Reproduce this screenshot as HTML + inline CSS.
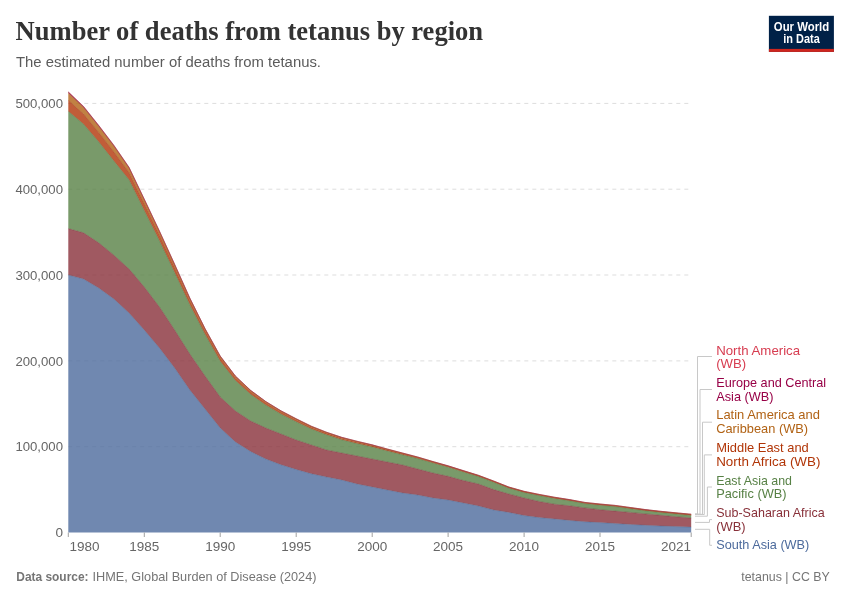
<!DOCTYPE html>
<html><head><meta charset="utf-8"><style>
html,body{margin:0;padding:0;background:#fff;}
svg{display:block;will-change:transform;}
text{font-family:"Liberation Sans",sans-serif;}
.ax{font-size:13.5px;fill:#666666;}
.lg{font-size:13.5px;}
</style></head><body>
<svg width="850" height="600" viewBox="0 0 850 600">
<rect width="850" height="600" fill="#ffffff"/>
<text x="15.6" y="40.1" style="font-family:'Liberation Serif',serif;font-weight:bold;font-size:28px" fill="#333333" textLength="467.5" lengthAdjust="spacingAndGlyphs">Number of deaths from tetanus by region</text>
<text x="16" y="66.8" style="font-size:15.5px" fill="#5b5b5b" textLength="305" lengthAdjust="spacingAndGlyphs">The estimated number of deaths from tetanus.</text>
<g>
<rect x="768.9" y="15.8" width="65" height="36" fill="#002147"/>
<rect x="768.9" y="48.9" width="65" height="3" fill="#ce261e"/>
<text x="801.5" y="30.7" text-anchor="middle" style="font-size:12px;font-weight:bold" fill="#ffffff" textLength="55.3" lengthAdjust="spacingAndGlyphs">Our World</text>
<text x="801.5" y="42.75" text-anchor="middle" style="font-size:12px;font-weight:bold" fill="#ffffff" textLength="36.5" lengthAdjust="spacingAndGlyphs">in Data</text>
</g>
<line x1="68.3" x2="691.2" y1="446.7" y2="446.7" stroke="#dddddd" stroke-dasharray="4,4"/>
<line x1="68.3" x2="691.2" y1="360.9" y2="360.9" stroke="#dddddd" stroke-dasharray="4,4"/>
<line x1="68.3" x2="691.2" y1="275.0" y2="275.0" stroke="#dddddd" stroke-dasharray="4,4"/>
<line x1="68.3" x2="691.2" y1="189.2" y2="189.2" stroke="#dddddd" stroke-dasharray="4,4"/>
<line x1="68.3" x2="691.2" y1="103.4" y2="103.4" stroke="#dddddd" stroke-dasharray="4,4"/>

<path d="M68.30,275.00 L83.49,279.00 L98.69,288.00 L113.88,299.00 L129.07,313.00 L144.26,330.00 L159.46,348.00 L174.65,368.00 L189.84,390.00 L205.03,409.00 L220.23,428.00 L235.42,442.00 L250.61,451.50 L265.80,459.00 L281.00,464.80 L296.19,469.50 L311.38,473.80 L326.58,477.00 L341.77,480.00 L356.96,484.00 L372.15,487.00 L387.35,490.00 L402.54,493.00 L417.73,495.00 L432.92,498.00 L448.12,500.00 L463.31,503.00 L478.50,506.00 L493.70,510.00 L508.89,512.40 L524.08,515.60 L539.27,517.60 L554.47,519.00 L569.66,520.40 L584.85,521.80 L600.04,522.60 L615.24,523.60 L630.43,524.40 L645.62,525.30 L660.81,526.00 L676.01,526.60 L691.20,527.10 L691.20,532.50 L676.01,532.50 L660.81,532.50 L645.62,532.50 L630.43,532.50 L615.24,532.50 L600.04,532.50 L584.85,532.50 L569.66,532.50 L554.47,532.50 L539.27,532.50 L524.08,532.50 L508.89,532.50 L493.70,532.50 L478.50,532.50 L463.31,532.50 L448.12,532.50 L432.92,532.50 L417.73,532.50 L402.54,532.50 L387.35,532.50 L372.15,532.50 L356.96,532.50 L341.77,532.50 L326.58,532.50 L311.38,532.50 L296.19,532.50 L281.00,532.50 L265.80,532.50 L250.61,532.50 L235.42,532.50 L220.23,532.50 L205.03,532.50 L189.84,532.50 L174.65,532.50 L159.46,532.50 L144.26,532.50 L129.07,532.50 L113.88,532.50 L98.69,532.50 L83.49,532.50 L68.30,532.50Z" fill="#4C6A9C" fill-opacity="0.8"/>
<path d="M68.30,228.60 L83.49,232.80 L98.69,242.80 L113.88,255.20 L129.07,269.00 L144.26,287.00 L159.46,307.00 L174.65,330.00 L189.84,354.00 L205.03,376.00 L220.23,397.00 L235.42,411.00 L250.61,421.00 L265.80,428.00 L281.00,434.00 L296.19,440.00 L311.38,445.00 L326.58,450.00 L341.77,453.00 L356.96,456.00 L372.15,459.00 L387.35,462.00 L402.54,465.00 L417.73,469.00 L432.92,473.00 L448.12,476.30 L463.31,480.50 L478.50,484.00 L493.70,489.60 L508.89,494.00 L524.08,498.00 L539.27,501.50 L554.47,504.20 L569.66,505.80 L584.85,507.90 L600.04,509.70 L615.24,511.10 L630.43,512.40 L645.62,513.90 L660.81,515.30 L676.01,516.70 L691.20,518.00 L691.20,527.10 L676.01,526.60 L660.81,526.00 L645.62,525.30 L630.43,524.40 L615.24,523.60 L600.04,522.60 L584.85,521.80 L569.66,520.40 L554.47,519.00 L539.27,517.60 L524.08,515.60 L508.89,512.40 L493.70,510.00 L478.50,506.00 L463.31,503.00 L448.12,500.00 L432.92,498.00 L417.73,495.00 L402.54,493.00 L387.35,490.00 L372.15,487.00 L356.96,484.00 L341.77,480.00 L326.58,477.00 L311.38,473.80 L296.19,469.50 L281.00,464.80 L265.80,459.00 L250.61,451.50 L235.42,442.00 L220.23,428.00 L205.03,409.00 L189.84,390.00 L174.65,368.00 L159.46,348.00 L144.26,330.00 L129.07,313.00 L113.88,299.00 L98.69,288.00 L83.49,279.00 L68.30,275.00Z" fill="#883039" fill-opacity="0.8"/>
<path d="M68.30,111.30 L83.49,124.10 L98.69,141.80 L113.88,160.90 L129.07,179.80 L144.26,210.50 L159.46,240.80 L174.65,272.40 L189.84,304.80 L205.03,334.30 L220.23,361.20 L235.42,380.50 L250.61,394.30 L265.80,405.10 L281.00,414.10 L296.19,421.70 L311.38,429.00 L326.58,434.80 L341.77,439.80 L356.96,443.55 L372.15,446.90 L387.35,450.95 L402.54,454.80 L417.73,458.60 L432.92,462.95 L448.12,467.15 L463.31,471.90 L478.50,476.60 L493.70,482.25 L508.89,488.20 L524.08,492.50 L539.27,495.60 L554.47,498.40 L569.66,500.80 L584.85,503.60 L600.04,505.20 L615.24,506.60 L630.43,508.70 L645.62,510.80 L660.81,512.50 L676.01,514.00 L691.20,515.45 L691.20,518.00 L676.01,516.70 L660.81,515.30 L645.62,513.90 L630.43,512.40 L615.24,511.10 L600.04,509.70 L584.85,507.90 L569.66,505.80 L554.47,504.20 L539.27,501.50 L524.08,498.00 L508.89,494.00 L493.70,489.60 L478.50,484.00 L463.31,480.50 L448.12,476.30 L432.92,473.00 L417.73,469.00 L402.54,465.00 L387.35,462.00 L372.15,459.00 L356.96,456.00 L341.77,453.00 L326.58,450.00 L311.38,445.00 L296.19,440.00 L281.00,434.00 L265.80,428.00 L250.61,421.00 L235.42,411.00 L220.23,397.00 L205.03,376.00 L189.84,354.00 L174.65,330.00 L159.46,307.00 L144.26,287.00 L129.07,269.00 L113.88,255.20 L98.69,242.80 L83.49,232.80 L68.30,228.60Z" fill="#578145" fill-opacity="0.8"/>
<path d="M68.30,100.30 L83.49,114.06 L98.69,132.49 L113.88,152.04 L129.07,172.75 L144.26,204.01 L159.46,235.27 L174.65,267.77 L189.84,300.96 L205.03,331.03 L220.23,358.27 L235.42,377.96 L250.61,392.04 L265.80,403.07 L281.00,412.24 L296.19,420.01 L311.38,427.42 L326.58,433.33 L341.77,438.39 L356.96,442.22 L372.15,445.72 L387.35,449.85 L402.54,453.78 L417.73,457.70 L432.92,462.13 L448.12,466.39 L463.31,471.17 L478.50,475.87 L493.70,481.54 L508.89,487.52 L524.08,491.82 L539.27,494.92 L554.47,497.72 L569.66,500.12 L584.85,502.92 L600.04,504.52 L615.24,505.92 L630.43,508.02 L645.62,510.12 L660.81,511.82 L676.01,513.32 L691.20,514.74 L691.20,515.45 L676.01,514.00 L660.81,512.50 L645.62,510.80 L630.43,508.70 L615.24,506.60 L600.04,505.20 L584.85,503.60 L569.66,500.80 L554.47,498.40 L539.27,495.60 L524.08,492.50 L508.89,488.20 L493.70,482.25 L478.50,476.60 L463.31,471.90 L448.12,467.15 L432.92,462.95 L417.73,458.60 L402.54,454.80 L387.35,450.95 L372.15,446.90 L356.96,443.55 L341.77,439.80 L326.58,434.80 L311.38,429.00 L296.19,421.70 L281.00,414.10 L265.80,405.10 L250.61,394.30 L235.42,380.50 L220.23,361.20 L205.03,334.30 L189.84,304.80 L174.65,272.40 L159.46,240.80 L144.26,210.50 L129.07,179.80 L113.88,160.90 L98.69,141.80 L83.49,124.10 L68.30,111.30Z" fill="#B13507" fill-opacity="0.8"/>
<path d="M68.30,92.90 L83.49,107.30 L98.69,126.23 L113.88,146.09 L129.07,168.01 L144.26,199.65 L159.46,231.55 L174.65,264.66 L189.84,298.38 L205.03,328.83 L220.23,356.29 L235.42,376.25 L250.61,390.53 L265.80,401.70 L281.00,410.99 L296.19,418.87 L311.38,426.36 L326.58,432.35 L341.77,437.44 L356.96,441.33 L372.15,444.92 L387.35,449.11 L402.54,453.10 L417.73,457.09 L432.92,461.58 L448.12,465.88 L463.31,470.67 L478.50,475.37 L493.70,481.07 L508.89,487.07 L524.08,491.37 L539.27,494.47 L554.47,497.27 L569.66,499.67 L584.85,502.47 L600.04,504.07 L615.24,505.47 L630.43,507.57 L645.62,509.67 L660.81,511.37 L676.01,512.87 L691.20,514.27 L691.20,514.74 L676.01,513.32 L660.81,511.82 L645.62,510.12 L630.43,508.02 L615.24,505.92 L600.04,504.52 L584.85,502.92 L569.66,500.12 L554.47,497.72 L539.27,494.92 L524.08,491.82 L508.89,487.52 L493.70,481.54 L478.50,475.87 L463.31,471.17 L448.12,466.39 L432.92,462.13 L417.73,457.70 L402.54,453.78 L387.35,449.85 L372.15,445.72 L356.96,442.22 L341.77,438.39 L326.58,433.33 L311.38,427.42 L296.19,420.01 L281.00,412.24 L265.80,403.07 L250.61,392.04 L235.42,377.96 L220.23,358.27 L205.03,331.03 L189.84,300.96 L174.65,267.77 L159.46,235.27 L144.26,204.01 L129.07,172.75 L113.88,152.04 L98.69,132.49 L83.49,114.06 L68.30,100.30Z" fill="#B16214" fill-opacity="0.8"/>
<path d="M68.30,92.10 L83.49,106.57 L98.69,125.55 L113.88,145.44 L129.07,167.49 L144.26,199.18 L159.46,231.15 L174.65,264.33 L189.84,298.10 L205.03,328.59 L220.23,356.08 L235.42,376.07 L250.61,390.36 L265.80,401.56 L281.00,410.85 L296.19,418.75 L311.38,426.24 L326.58,432.24 L341.77,437.34 L356.96,441.24 L372.15,444.83 L387.35,449.03 L402.54,453.03 L417.73,457.02 L432.92,461.52 L448.12,465.82 L463.31,470.62 L478.50,475.32 L493.70,481.02 L508.89,487.02 L524.08,491.32 L539.27,494.42 L554.47,497.22 L569.66,499.62 L584.85,502.42 L600.04,504.02 L615.24,505.42 L630.43,507.52 L645.62,509.62 L660.81,511.32 L676.01,512.82 L691.20,514.22 L691.20,514.27 L676.01,512.87 L660.81,511.37 L645.62,509.67 L630.43,507.57 L615.24,505.47 L600.04,504.07 L584.85,502.47 L569.66,499.67 L554.47,497.27 L539.27,494.47 L524.08,491.37 L508.89,487.07 L493.70,481.07 L478.50,475.37 L463.31,470.67 L448.12,465.88 L432.92,461.58 L417.73,457.09 L402.54,453.10 L387.35,449.11 L372.15,444.92 L356.96,441.33 L341.77,437.44 L326.58,432.35 L311.38,426.36 L296.19,418.87 L281.00,410.99 L265.80,401.70 L250.61,390.53 L235.42,376.25 L220.23,356.29 L205.03,328.83 L189.84,298.38 L174.65,264.66 L159.46,231.55 L144.26,199.65 L129.07,168.01 L113.88,146.09 L98.69,126.23 L83.49,107.30 L68.30,92.90Z" fill="#970046" fill-opacity="0.8"/>
<path d="M68.30,91.80 L83.49,106.30 L98.69,125.30 L113.88,145.20 L129.07,167.30 L144.26,199.00 L159.46,231.00 L174.65,264.20 L189.84,298.00 L205.03,328.50 L220.23,356.00 L235.42,376.00 L250.61,390.30 L265.80,401.50 L281.00,410.80 L296.19,418.70 L311.38,426.20 L326.58,432.20 L341.77,437.30 L356.96,441.20 L372.15,444.80 L387.35,449.00 L402.54,453.00 L417.73,457.00 L432.92,461.50 L448.12,465.80 L463.31,470.60 L478.50,475.30 L493.70,481.00 L508.89,487.00 L524.08,491.30 L539.27,494.40 L554.47,497.20 L569.66,499.60 L584.85,502.40 L600.04,504.00 L615.24,505.40 L630.43,507.50 L645.62,509.60 L660.81,511.30 L676.01,512.80 L691.20,514.20 L691.20,514.22 L676.01,512.82 L660.81,511.32 L645.62,509.62 L630.43,507.52 L615.24,505.42 L600.04,504.02 L584.85,502.42 L569.66,499.62 L554.47,497.22 L539.27,494.42 L524.08,491.32 L508.89,487.02 L493.70,481.02 L478.50,475.32 L463.31,470.62 L448.12,465.82 L432.92,461.52 L417.73,457.02 L402.54,453.03 L387.35,449.03 L372.15,444.83 L356.96,441.24 L341.77,437.34 L326.58,432.24 L311.38,426.24 L296.19,418.75 L281.00,410.85 L265.80,401.56 L250.61,390.36 L235.42,376.07 L220.23,356.08 L205.03,328.59 L189.84,298.10 L174.65,264.33 L159.46,231.15 L144.26,199.18 L129.07,167.49 L113.88,145.44 L98.69,125.55 L83.49,106.57 L68.30,92.10Z" fill="#D73C50" fill-opacity="0.8"/>
<path d="M68.30,275.00 L83.49,279.00 L98.69,288.00 L113.88,299.00 L129.07,313.00 L144.26,330.00 L159.46,348.00 L174.65,368.00 L189.84,390.00 L205.03,409.00 L220.23,428.00 L235.42,442.00 L250.61,451.50 L265.80,459.00 L281.00,464.80 L296.19,469.50 L311.38,473.80 L326.58,477.00 L341.77,480.00 L356.96,484.00 L372.15,487.00 L387.35,490.00 L402.54,493.00 L417.73,495.00 L432.92,498.00 L448.12,500.00 L463.31,503.00 L478.50,506.00 L493.70,510.00 L508.89,512.40 L524.08,515.60 L539.27,517.60 L554.47,519.00 L569.66,520.40 L584.85,521.80 L600.04,522.60 L615.24,523.60 L630.43,524.40 L645.62,525.30 L660.81,526.00 L676.01,526.60 L691.20,527.10" fill="none" stroke="#405983" stroke-opacity="0.7" stroke-width="0.5"/>
<path d="M68.30,228.60 L83.49,232.80 L98.69,242.80 L113.88,255.20 L129.07,269.00 L144.26,287.00 L159.46,307.00 L174.65,330.00 L189.84,354.00 L205.03,376.00 L220.23,397.00 L235.42,411.00 L250.61,421.00 L265.80,428.00 L281.00,434.00 L296.19,440.00 L311.38,445.00 L326.58,450.00 L341.77,453.00 L356.96,456.00 L372.15,459.00 L387.35,462.00 L402.54,465.00 L417.73,469.00 L432.92,473.00 L448.12,476.30 L463.31,480.50 L478.50,484.00 L493.70,489.60 L508.89,494.00 L524.08,498.00 L539.27,501.50 L554.47,504.20 L569.66,505.80 L584.85,507.90 L600.04,509.70 L615.24,511.10 L630.43,512.40 L645.62,513.90 L660.81,515.30 L676.01,516.70 L691.20,518.00" fill="none" stroke="#722830" stroke-opacity="0.7" stroke-width="0.5"/>
<path d="M68.30,111.30 L83.49,124.10 L98.69,141.80 L113.88,160.90 L129.07,179.80 L144.26,210.50 L159.46,240.80 L174.65,272.40 L189.84,304.80 L205.03,334.30 L220.23,361.20 L235.42,380.50 L250.61,394.30 L265.80,405.10 L281.00,414.10 L296.19,421.70 L311.38,429.00 L326.58,434.80 L341.77,439.80 L356.96,443.55 L372.15,446.90 L387.35,450.95 L402.54,454.80 L417.73,458.60 L432.92,462.95 L448.12,467.15 L463.31,471.90 L478.50,476.60 L493.70,482.25 L508.89,488.20 L524.08,492.50 L539.27,495.60 L554.47,498.40 L569.66,500.80 L584.85,503.60 L600.04,505.20 L615.24,506.60 L630.43,508.70 L645.62,510.80 L660.81,512.50 L676.01,514.00 L691.20,515.45" fill="none" stroke="#496c3a" stroke-opacity="0.7" stroke-width="0.5"/>
<path d="M68.30,100.30 L83.49,114.06 L98.69,132.49 L113.88,152.04 L129.07,172.75 L144.26,204.01 L159.46,235.27 L174.65,267.77 L189.84,300.96 L205.03,331.03 L220.23,358.27 L235.42,377.96 L250.61,392.04 L265.80,403.07 L281.00,412.24 L296.19,420.01 L311.38,427.42 L326.58,433.33 L341.77,438.39 L356.96,442.22 L372.15,445.72 L387.35,449.85 L402.54,453.78 L417.73,457.70 L432.92,462.13 L448.12,466.39 L463.31,471.17 L478.50,475.87 L493.70,481.54 L508.89,487.52 L524.08,491.82 L539.27,494.92 L554.47,497.72 L569.66,500.12 L584.85,502.92 L600.04,504.52 L615.24,505.92 L630.43,508.02 L645.62,510.12 L660.81,511.82 L676.01,513.32 L691.20,514.74" fill="none" stroke="#942c06" stroke-opacity="0.7" stroke-width="0.5"/>
<path d="M68.30,92.90 L83.49,107.30 L98.69,126.23 L113.88,146.09 L129.07,168.01 L144.26,199.65 L159.46,231.55 L174.65,264.66 L189.84,298.38 L205.03,328.83 L220.23,356.29 L235.42,376.25 L250.61,390.53 L265.80,401.70 L281.00,410.99 L296.19,418.87 L311.38,426.36 L326.58,432.35 L341.77,437.44 L356.96,441.33 L372.15,444.92 L387.35,449.11 L402.54,453.10 L417.73,457.09 L432.92,461.58 L448.12,465.88 L463.31,470.67 L478.50,475.37 L493.70,481.07 L508.89,487.07 L524.08,491.37 L539.27,494.47 L554.47,497.27 L569.66,499.67 L584.85,502.47 L600.04,504.07 L615.24,505.47 L630.43,507.57 L645.62,509.67 L660.81,511.37 L676.01,512.87 L691.20,514.27" fill="none" stroke="#945211" stroke-opacity="0.7" stroke-width="0.5"/>
<path d="M68.30,92.10 L83.49,106.57 L98.69,125.55 L113.88,145.44 L129.07,167.49 L144.26,199.18 L159.46,231.15 L174.65,264.33 L189.84,298.10 L205.03,328.59 L220.23,356.08 L235.42,376.07 L250.61,390.36 L265.80,401.56 L281.00,410.85 L296.19,418.75 L311.38,426.24 L326.58,432.24 L341.77,437.34 L356.96,441.24 L372.15,444.83 L387.35,449.03 L402.54,453.03 L417.73,457.02 L432.92,461.52 L448.12,465.82 L463.31,470.62 L478.50,475.32 L493.70,481.02 L508.89,487.02 L524.08,491.32 L539.27,494.42 L554.47,497.22 L569.66,499.62 L584.85,502.42 L600.04,504.02 L615.24,505.42 L630.43,507.52 L645.62,509.62 L660.81,511.32 L676.01,512.82 L691.20,514.22" fill="none" stroke="#7e003b" stroke-opacity="0.7" stroke-width="0.5"/>
<path d="M68.30,91.80 L83.49,106.30 L98.69,125.30 L113.88,145.20 L129.07,167.30 L144.26,199.00 L159.46,231.00 L174.65,264.20 L189.84,298.00 L205.03,328.50 L220.23,356.00 L235.42,376.00 L250.61,390.30 L265.80,401.50 L281.00,410.80 L296.19,418.70 L311.38,426.20 L326.58,432.20 L341.77,437.30 L356.96,441.20 L372.15,444.80 L387.35,449.00 L402.54,453.00 L417.73,457.00 L432.92,461.50 L448.12,465.80 L463.31,470.60 L478.50,475.30 L493.70,481.00 L508.89,487.00 L524.08,491.30 L539.27,494.40 L554.47,497.20 L569.66,499.60 L584.85,502.40 L600.04,504.00 L615.24,505.40 L630.43,507.50 L645.62,509.60 L660.81,511.30 L676.01,512.80 L691.20,514.20" fill="none" stroke="#b43243" stroke-opacity="0.7" stroke-width="0.5"/>
<text x="63" y="537.2" text-anchor="end" class="ax">0</text>
<text x="63" y="451.4" text-anchor="end" class="ax" textLength="47.6" lengthAdjust="spacingAndGlyphs">100,000</text>
<text x="63" y="365.6" text-anchor="end" class="ax" textLength="47.6" lengthAdjust="spacingAndGlyphs">200,000</text>
<text x="63" y="279.7" text-anchor="end" class="ax" textLength="47.6" lengthAdjust="spacingAndGlyphs">300,000</text>
<text x="63" y="193.9" text-anchor="end" class="ax" textLength="47.6" lengthAdjust="spacingAndGlyphs">400,000</text>
<text x="63" y="108.1" text-anchor="end" class="ax" textLength="47.6" lengthAdjust="spacingAndGlyphs">500,000</text>

<line x1="68.3" x2="68.3" y1="532.5" y2="537" stroke="#a0a0a0"/>
<text x="69.5" y="550.5" text-anchor="start" class="ax">1980</text>
<line x1="144.3" x2="144.3" y1="532.5" y2="537" stroke="#a0a0a0"/>
<text x="144.3" y="550.5" text-anchor="middle" class="ax">1985</text>
<line x1="220.2" x2="220.2" y1="532.5" y2="537" stroke="#a0a0a0"/>
<text x="220.2" y="550.5" text-anchor="middle" class="ax">1990</text>
<line x1="296.2" x2="296.2" y1="532.5" y2="537" stroke="#a0a0a0"/>
<text x="296.2" y="550.5" text-anchor="middle" class="ax">1995</text>
<line x1="372.2" x2="372.2" y1="532.5" y2="537" stroke="#a0a0a0"/>
<text x="372.2" y="550.5" text-anchor="middle" class="ax">2000</text>
<line x1="448.1" x2="448.1" y1="532.5" y2="537" stroke="#a0a0a0"/>
<text x="448.1" y="550.5" text-anchor="middle" class="ax">2005</text>
<line x1="524.1" x2="524.1" y1="532.5" y2="537" stroke="#a0a0a0"/>
<text x="524.1" y="550.5" text-anchor="middle" class="ax">2010</text>
<line x1="600.0" x2="600.0" y1="532.5" y2="537" stroke="#a0a0a0"/>
<text x="600.0" y="550.5" text-anchor="middle" class="ax">2015</text>
<line x1="691.2" x2="691.2" y1="532.5" y2="537" stroke="#a0a0a0"/>
<text x="691.0" y="550.5" text-anchor="end" class="ax">2021</text>

<g fill="none" stroke="#c8c8c8" stroke-width="1">
<polyline points="695,514 697.5,514 697.5,356.5 712,356.5"/>
<polyline points="695,514.2 700,514.2 700,389.5 712,389.5"/>
<polyline points="695,514.3 702.5,514.3 702.5,422.2 712,422.2"/>
<polyline points="695,514.5 704.3,514.5 704.3,454.9 712,454.9"/>
<polyline points="695,516.2 707.4,516.2 707.4,487 712,487"/>
<polyline points="695,522.4 709.5,522.4 709.5,519.6 712,519.6"/>
<polyline points="695,529.3 709.7,529.3 709.7,545.3 712,545.3"/>
</g>
<text x="716.2" y="354.5" class="lg" fill="#D73C50" textLength="83.9" lengthAdjust="spacingAndGlyphs">North America</text>
<text x="716.2" y="368.4" class="lg" fill="#D73C50" textLength="29.9" lengthAdjust="spacingAndGlyphs">(WB)</text>
<text x="716.2" y="386.9" class="lg" fill="#970046" textLength="110.0" lengthAdjust="spacingAndGlyphs">Europe and Central</text>
<text x="716.2" y="400.8" class="lg" fill="#970046" textLength="57.3" lengthAdjust="spacingAndGlyphs">Asia (WB)</text>
<text x="716.2" y="419.3" class="lg" fill="#B16214" textLength="103.8" lengthAdjust="spacingAndGlyphs">Latin America and</text>
<text x="716.2" y="433.2" class="lg" fill="#B16214" textLength="91.9" lengthAdjust="spacingAndGlyphs">Caribbean (WB)</text>
<text x="716.2" y="451.9" class="lg" fill="#B13507" textLength="92.6" lengthAdjust="spacingAndGlyphs">Middle East and</text>
<text x="716.2" y="465.8" class="lg" fill="#B13507" textLength="104.2" lengthAdjust="spacingAndGlyphs">North Africa (WB)</text>
<text x="716.2" y="484.5" class="lg" fill="#578145" textLength="75.8" lengthAdjust="spacingAndGlyphs">East Asia and</text>
<text x="716.2" y="498.4" class="lg" fill="#578145" textLength="70.3" lengthAdjust="spacingAndGlyphs">Pacific (WB)</text>
<text x="716.2" y="517.1" class="lg" fill="#883039" textLength="108.5" lengthAdjust="spacingAndGlyphs">Sub-Saharan Africa</text>
<text x="716.2" y="531.0" class="lg" fill="#883039" textLength="29.4" lengthAdjust="spacingAndGlyphs">(WB)</text>
<text x="716.2" y="549.4" class="lg" fill="#4C6A9C" textLength="93.1" lengthAdjust="spacingAndGlyphs">South Asia (WB)</text>

<text x="16.3" y="580.8" style="font-size:13px;font-weight:bold" fill="#757575" textLength="72.2" lengthAdjust="spacingAndGlyphs">Data source:</text>
<text x="92.5" y="580.8" style="font-size:13px" fill="#757575" textLength="224" lengthAdjust="spacingAndGlyphs">IHME, Global Burden of Disease (2024)</text>
<text x="829.8" y="580.6" text-anchor="end" style="font-size:13px" fill="#757575" textLength="88.5" lengthAdjust="spacingAndGlyphs">tetanus | CC BY</text>
</svg>
</body></html>
